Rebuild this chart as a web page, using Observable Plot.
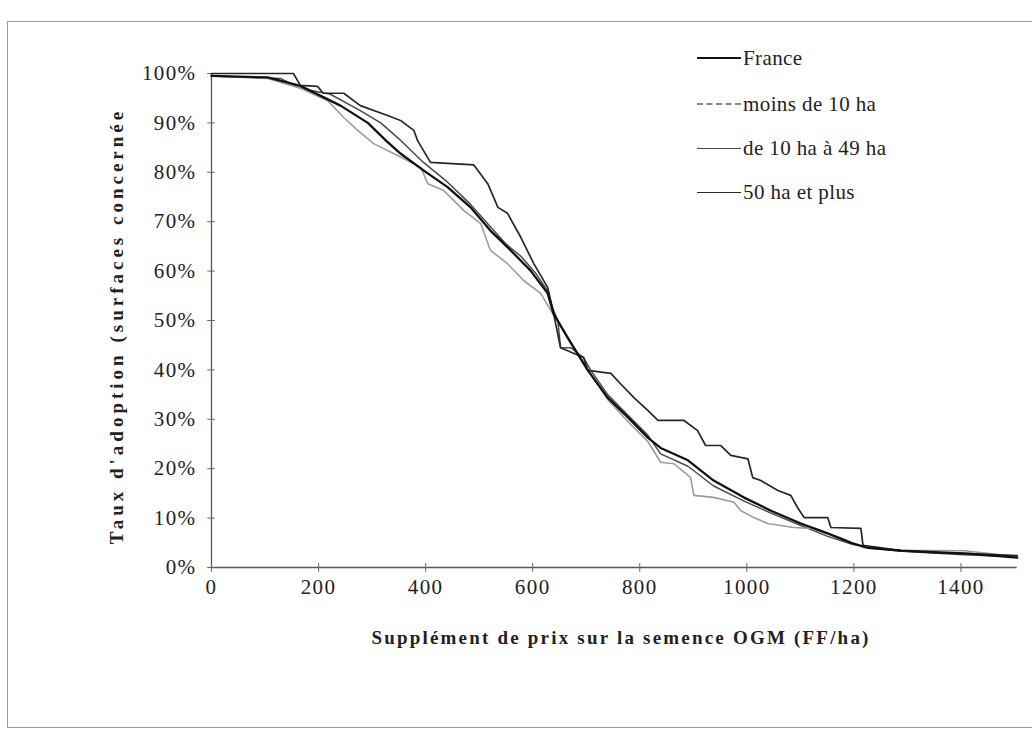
<!DOCTYPE html>
<html>
<head>
<meta charset="utf-8">
<script src="https://cdn.jsdelivr.net/npm/d3@7"></script>
<script src="https://cdn.jsdelivr.net/npm/@observablehq/plot@0.6"></script>
<style>
  html, body { margin: 0; padding: 0; background: #fff; }
  #wrap { position: relative; width: 1032px; height: 730px; overflow: hidden; font-family: "Liberation Serif", "Times New Roman", serif; }
  #border { position: absolute; left: 7px; top: 21px; width: 1040px; height: 707px; border: 1px solid #9a9a9a; box-sizing: border-box; }
  .leg { position: absolute; left: 697px; height: 22px; font-size: 21px; letter-spacing: 0.4px; color: #222; display: flex; align-items: center; white-space: nowrap; }
  .leg .sw { width: 44px; height: 0; margin-right: 2px; }
  #xlabel { position: absolute; left: 0; width: 1242px; top: 627px; text-align: center; font-weight: bold; font-size: 19px; letter-spacing: 2.2px; color: #222; }
  #ylabel { position: absolute; left: 117px; top: 326px; transform: translate(-50%, -50%) rotate(-90deg); font-weight: bold; font-size: 19px; letter-spacing: 4px; color: #222; white-space: nowrap; }
</style>
</head>
<body>
<div id="wrap">
  <div id="chart"></div>
  <div id="border"></div>
  <div id="legend"></div>
  <div id="xlabel">Supplément de prix sur la semence OGM (FF/ha)</div>
  <div id="ylabel">Taux d'adoption (surfaces concernée</div>
</div>
<script>
// Series names
const seriesNames = ["France", "moins de 10 ha", "de 10 ha à 49 ha", "50 ha et plus"];

// Axis ticks
const xTicks = [0, 200, 400, 600, 800, 1000, 1200, 1400];
const yTicks = [0, 10, 20, 30, 40, 50, 60, 70, 80, 90, 100];

// France
const franceX = [0, 105, 166, 241, 292, 325, 353, 396, 441, 484, 521, 559, 596, 628, 639, 665, 703, 740, 778, 815, 839, 890, 938, 994, 1045, 1101, 1151, 1194, 1226, 1288, 1413, 1505];
const franceY = [99.5, 99.2, 97.5, 93.5, 90, 86.5, 83.8, 80.4, 77, 72.9, 68.2, 64.2, 60.1, 55.5, 51.4, 46.6, 39.9, 34.4, 30.4, 26.3, 24.2, 21.7, 17.6, 14.2, 11.5, 8.9, 6.9, 5, 4, 3.4, 2.8, 2];

// moins de 10 ha
const smallX = [0, 105, 166, 217, 247, 273, 303, 340, 366, 391, 404, 434, 471, 503, 521, 553, 583, 615, 634, 665, 703, 740, 778, 815, 839, 864, 895, 901, 938, 976, 989, 1013, 1039, 1088, 1120, 1176, 1219, 1288, 1406, 1505];
const smallY = [99.5, 99, 97, 94.5, 91.1, 88.5, 85.8, 83.8, 82.4, 81, 77.7, 76.3, 72.3, 69.6, 64.2, 61.5, 58.1, 55.5, 52, 46.6, 40, 34, 29.5, 25.5, 21.3, 21, 18.2, 14.6, 14.2, 13.2, 11.5, 10.1, 8.9, 8.1, 7.9, 6, 4, 3.5, 3.4, 2.2];

// de 10 ha à 49 ha
const midX = [0, 129, 166, 222, 278, 316, 353, 396, 441, 484, 521, 550, 578, 606, 628, 639, 647, 652, 671, 695, 708, 740, 778, 815, 839, 890, 938, 994, 1045, 1101, 1151, 1194, 1226, 1288, 1406, 1505];
const midY = [99.5, 99, 97, 95.8, 92.5, 90, 86.5, 82, 78, 73.5, 69, 65.5, 63, 59.5, 56, 52, 50, 44.5, 44.5, 42.5, 40, 35, 30.8, 26.8, 23, 20.5, 16.5, 13.5, 11, 8.5, 6.3, 4.8, 4, 3.3, 2.6, 2.2];

// 50 ha et plus
const largeX = [0, 153, 166, 198, 209, 247, 278, 329, 353, 378, 385, 409, 490, 516, 535, 553, 578, 602, 628, 639, 652, 695, 703, 746, 764, 789, 815, 834, 882, 908, 923, 951, 970, 1002, 1011, 1026, 1058, 1082, 1095, 1107, 1151, 1157, 1213, 1217, 1288, 1350, 1413, 1505];
const largeY = [100, 100, 97.6, 97.4, 96, 96, 93.5, 91.5, 90.5, 88.5, 86.4, 82, 81.5, 77.7, 72.9, 71.7, 66.8, 61.5, 56.7, 51.4, 44.5, 42.5, 39.9, 39.3, 37.2, 34.4, 31.8, 29.8, 29.8, 27.7, 24.7, 24.7, 22.7, 22, 18.2, 17.6, 15.6, 14.6, 12.1, 10.1, 10.1, 8.1, 7.9, 4.5, 3.4, 3, 2.8, 2.4];

const styles = [
  {stroke: "#111", strokeWidth: 2.3},
  {stroke: "#9c9c9c", strokeWidth: 1.6},
  {stroke: "#4a4a4a", strokeWidth: 1.5},
  {stroke: "#262626", strokeWidth: 1.7}
];

const toRows = (xs, ys) => xs.map((x, i) => ({x, y: ys[i]}));
const series = [toRows(franceX, franceY), toRows(smallX, smallY), toRows(midX, midY), toRows(largeX, largeY)];

const chart = Plot.plot({
  width: 1032,
  height: 730,
  marginLeft: 211,
  marginRight: 18,
  marginTop: 73,
  marginBottom: 163,
  style: {fontFamily: "'Liberation Serif', 'Times New Roman', serif", fontSize: "21px", letterSpacing: "1.4px", color: "#222", background: "transparent"},
  x: {domain: [0, 1500], ticks: xTicks, tickSize: 0, tickPadding: 12, label: null, tickFormat: d => String(d)},
  y: {domain: [0, 100], ticks: yTicks, tickSize: 0, tickPadding: 15, label: null, tickFormat: d => d + "%"},
  marks: [
    Plot.ruleX([0], {y1: 0, y2: 100, stroke: "#555", strokeWidth: 1.3}),
    Plot.ruleY([0], {x1: 0, x2: 1505, stroke: "#555", strokeWidth: 1.3}),
    Plot.ruleY(yTicks, {y: d => d, x1: -7, x2: 7, stroke: "#666", strokeWidth: 1}),
    Plot.ruleX(xTicks, {x: d => d, y1: -1, y2: 0.8, stroke: "#666", strokeWidth: 1}),
    Plot.line(series[2], {x: "x", y: "y", ...styles[2]}),
    Plot.line(series[1], {x: "x", y: "y", ...styles[1]}),
    Plot.line(series[3], {x: "x", y: "y", ...styles[3]}),
    Plot.line(series[0], {x: "x", y: "y", ...styles[0]})
  ]
});
document.getElementById("chart").appendChild(chart);

// Legend
const legendTops = [47, 93, 137, 181];
const legendSwatch = ["2.3px solid #111", "2px dashed #8a8a8a", "1.5px solid #4a4a4a", "1.8px solid #262626"];
const legend = document.getElementById("legend");
seriesNames.forEach((name, i) => {
  const div = document.createElement("div");
  div.className = "leg";
  div.style.top = legendTops[i] + "px";
  const sw = document.createElement("span");
  sw.className = "sw";
  sw.style.borderTop = legendSwatch[i];
  const t = document.createElement("span");
  t.textContent = name;
  div.appendChild(sw);
  div.appendChild(t);
  legend.appendChild(div);
});
</script>
</body>
</html>
